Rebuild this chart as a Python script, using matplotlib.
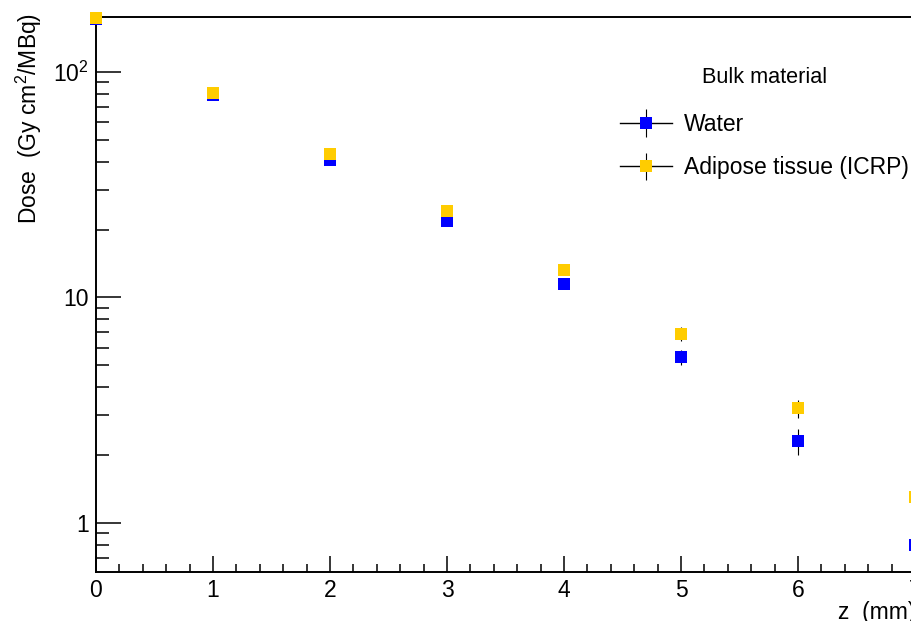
import matplotlib
matplotlib.use('Agg')
import matplotlib.pyplot as plt
from matplotlib.lines import Line2D
from matplotlib.container import ErrorbarContainer
from matplotlib.legend_handler import HandlerTuple, HandlerErrorbar
from matplotlib.ticker import FixedLocator, MultipleLocator, LogLocator, NullFormatter

plt.rcParams['font.family'] = ['Liberation Sans', 'DejaVu Sans']
plt.rcParams['mathtext.fontset'] = 'custom'
plt.rcParams['mathtext.rm'] = 'Liberation Sans'
plt.rcParams['mathtext.it'] = 'Liberation Sans:italic'

# depth along z (mm)
z = [0, 1, 2, 3, 4, 5, 6, 7]
# dose per unit activity
water = [172, 79.3, 40.7, 21.9, 11.5, 5.43, 2.31, 0.80]
water_err = [2.0, 1.0, 0.6, 0.4, 0.3, 0.4, 0.30, 0.10]
adipose = [174, 81.1, 43.3, 24.2, 13.2, 6.92, 3.22, 1.30]
adipose_err = [2.0, 1.0, 0.6, 0.4, 0.3, 0.5, 0.30, 0.20]

series_names = ['Water', 'Adipose tissue (ICRP)']
legend_title = 'Bulk material'

blue = '#0000ff'
yellow = '#ffcc00'

fig = plt.figure(figsize=(9.12, 6.21), dpi=100)
ax = fig.add_axes([96/912, 49/621, 819/912, 555/621])

ax.set_yscale('log')
ax.set_xlim(0, 7)
ax.set_ylim(0.606, 175.4)

kw = dict(fmt='s', ms=8.6, mew=0, ecolor='black', elinewidth=0.8,
          capsize=2.9, capthick=0.8, clip_on=False, zorder=3)
eb_w = ax.errorbar(z, water, yerr=water_err, color=blue, **kw)
eb_a = ax.errorbar(z, adipose, yerr=adipose_err, color=yellow, **kw)
for eb in (eb_w, eb_a):
    for art in eb.lines[1] + eb.lines[2]:
        art.set_clip_on(False)

# ROOT-like frame: inward ticks, no right/top ticks
for side in ('left', 'bottom', 'top', 'right'):
    ax.spines[side].set_linewidth(1.4)
ax.xaxis.set_major_locator(MultipleLocator(1))
ax.xaxis.set_minor_locator(MultipleLocator(0.2))
ax.yaxis.set_major_locator(FixedLocator([1, 10, 100]))
ax.set_yticklabels(['1', '10', '$10^2$'])
ax.yaxis.set_minor_locator(LogLocator(base=10, subs=range(2, 10)))
ax.yaxis.set_minor_formatter(NullFormatter())

ax.tick_params(axis='both', which='both', direction='in', top=False, right=False,
               labelsize=16.5, pad=5, width=1.1)
ax.tick_params(axis='x', which='major', length=11.5)
ax.tick_params(axis='x', which='minor', length=5.8)
ax.tick_params(axis='y', which='major', length=18)
ax.tick_params(axis='y', which='minor', length=9.4)

ax.set_xlabel('z  (mm)', fontsize=16.5, loc='right')
ax.set_ylabel('Dose  (Gy cm$^2$/MBq)', fontsize=16.5, loc='top')
ax.xaxis.set_label_coords(1.0, -0.053)
ax.yaxis.set_label_coords(-0.064, 1.008)

hline = Line2D([], [], color='black', lw=1.0)
leg = ax.legend([(hline, eb_w), (hline, eb_a)], series_names,
                handler_map={tuple: HandlerTuple(ndivide=1),
                             ErrorbarContainer: HandlerErrorbar(yerr_size=0.6)},
                title=legend_title, title_fontsize=15.6, fontsize=16.5,
                frameon=False, loc='upper left',
                bbox_to_anchor=(620/912, 1 - 67/621),
                bbox_transform=fig.transFigure,
                borderpad=0, borderaxespad=0, handlelength=2.26,
                handletextpad=0.55, labelspacing=0.89)
leg._legend_box.sep = 18

fig.savefig('out.png', dpi=100)
